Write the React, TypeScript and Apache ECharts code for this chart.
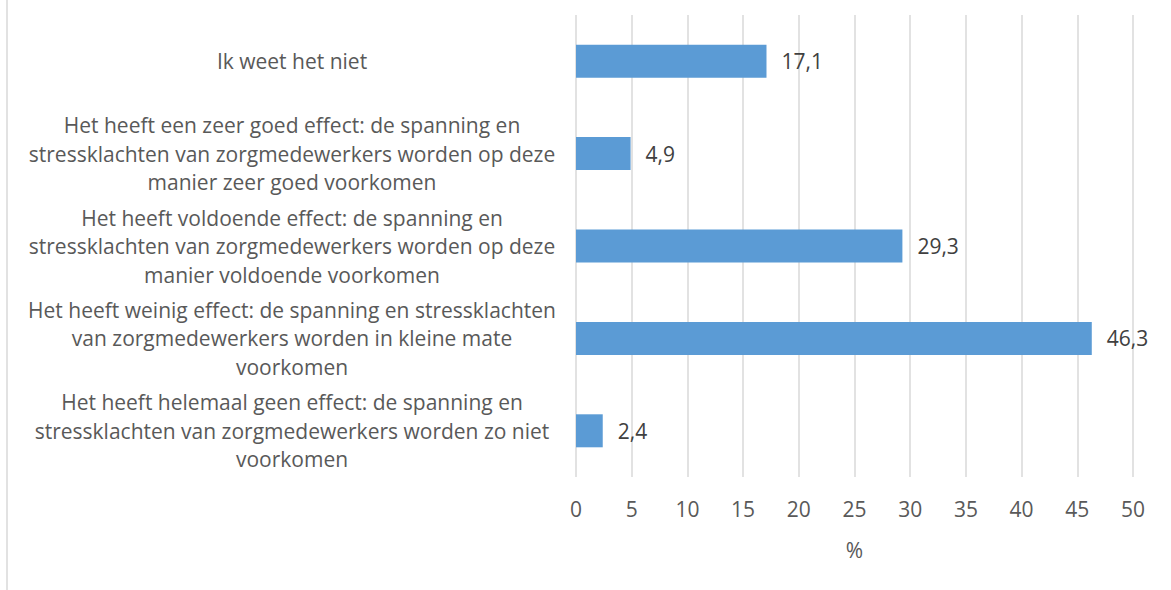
import React, { useEffect, useRef } from "react";
import * as echarts from "echarts";

const categories: string[] = [
  "Ik weet het niet",
  "Het heeft een zeer goed effect: de spanning en\nstressklachten van zorgmedewerkers worden op deze\nmanier zeer goed voorkomen",
  "Het heeft voldoende effect: de spanning en\nstressklachten van zorgmedewerkers worden op deze\nmanier voldoende voorkomen",
  "Het heeft weinig effect: de spanning en stressklachten\nvan zorgmedewerkers worden in kleine mate\nvoorkomen",
  "Het heeft helemaal geen effect: de spanning en\nstressklachten van zorgmedewerkers worden zo niet\nvoorkomen",
];
const values: number[] = [17.1, 4.9, 29.3, 46.3, 2.4];
const axisMin = 0;
const axisMax = 50;
const axisInterval = 5;
const axisName = "%";

const FONT = "'Open Sans', 'Noto Sans', sans-serif";

export default function App() {
  const ref = useRef<HTMLDivElement>(null);
  useEffect(() => {
    if (!ref.current) return;
    const chart = echarts.init(ref.current, undefined, { renderer: "svg" });
    chart.setOption({
      animation: false,
      backgroundColor: "#ffffff",
      textStyle: { fontFamily: FONT },
      grid: {
        left: 576,
        right: 38,
        top: 15,
        bottom: 113,
        containLabel: false,
        outerBoundsMode: "none",
      },
      xAxis: {
        type: "value",
        min: axisMin,
        max: axisMax,
        interval: axisInterval,
        name: axisName,
        nameLocation: "middle",
        nameGap: 62,
        nameTextStyle: { color: "#595959", fontSize: 21, fontFamily: FONT },
        axisLine: { show: false },
        axisTick: { show: false },
        splitLine: { show: true, lineStyle: { color: "#d9d9d9", width: 1.5 } },
        axisLabel: { color: "#595959", fontSize: 21, margin: 21, fontFamily: FONT },
      },
      yAxis: {
        type: "category",
        data: categories,
        inverse: true,
        axisLine: { show: false },
        axisTick: { show: false },
        splitLine: { show: false },
        axisLabel: {
          color: "#595959",
          fontSize: 21,
          lineHeight: 28.5,
          align: "center",
          margin: 284,
          fontFamily: FONT,
        },
      },
      graphic: [
        {
          type: "line",
          shape: { x1: 7, y1: 0, x2: 7, y2: 590 },
          style: { stroke: "#d9d9d9", lineWidth: 1.5 },
        },
      ],
      series: [
        {
          type: "bar",
          data: values,
          barWidth: 33,
          itemStyle: { color: "#5b9bd5" },
          label: {
            show: true,
            position: "right",
            distance: 15,
            color: "#404040",
            fontSize: 21,
            fontFamily: FONT,
            formatter: (p: any) => String(p.value).replace(".", ","),
          },
        },
      ],
    });
    return () => chart.dispose();
  }, []);
  return (
    <div
      ref={ref}
      style={{ position: "fixed", left: 0, top: 0, width: 1171, height: 590 }}
    />
  );
}
